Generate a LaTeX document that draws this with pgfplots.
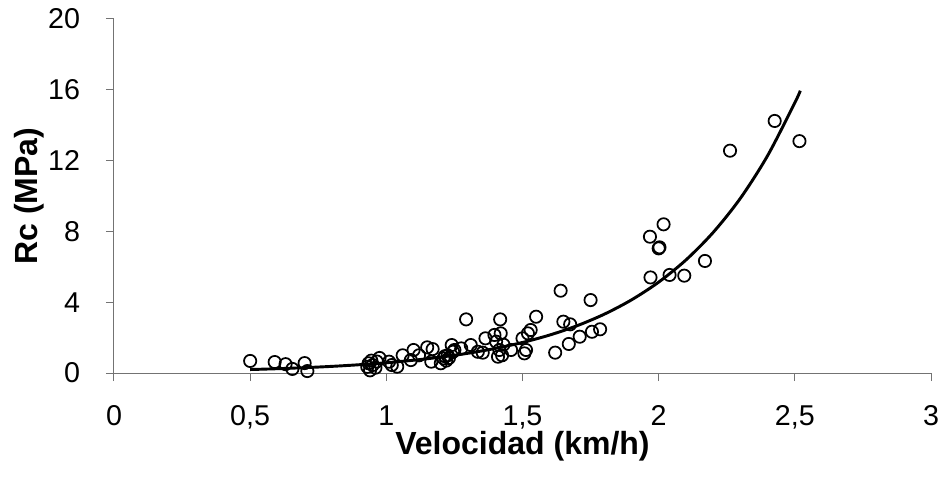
\documentclass[border=0pt]{standalone}
\usepackage{pgfplots}
\pgfplotsset{compat=1.18}
\usepackage{fontspec}
\setmainfont{Liberation Sans}
\begin{document}
\begin{tikzpicture}
\begin{axis}[
  name=ax,
  scale only axis,
  width=612.75pt, height=265.5pt,
  xmin=0, xmax=3, ymin=0, ymax=20,
  axis x line=bottom, axis y line=left,
  axis line style={-, draw=black!55, line width=0.75pt},
  xtick={0,0.5,1,1.5,2,2.5,3},
  ytick={0,4,8,12,16,20},
  tick align=outside,
  major tick length=6pt,
  tick style={draw=black!55, line width=0.75pt},
  /pgf/number format/assume math mode=true,
  /pgf/number format/use comma,
  ticklabel style={font=\fontsize{21.5}{24}\selectfont},
  xticklabel style={anchor=base, yshift=-33pt},
  yticklabel style={anchor=east, xshift=-16pt},
  xlabel={\textbf{Velocidad (km/h)}},
  ylabel={\textbf{Rc (MPa)}},
  label style={font=\fontsize{24}{28}\selectfont},
  xlabel style={at={(axis description cs:0.5,-0.2316)}, anchor=base},
  ylabel style={at={(axis description cs:-0.094,0.5)}, anchor=base},
  clip=false,
]
\addplot[only marks, mark=o, mark size=4.6pt, mark options={line width=1.3pt, draw=black}] coordinates {
(0.50,0.68)(0.59,0.62)(0.63,0.50)(0.655,0.23)(0.70,0.56)(0.71,0.11)
(0.93,0.35)(0.935,0.55)(0.94,0.15)(0.945,0.70)(0.95,0.45)(0.96,0.30)(0.965,0.65)(0.975,0.85)
(1.01,0.64)(1.02,0.45)(1.04,0.36)(1.06,1.00)(1.09,0.73)(1.10,1.30)(1.12,1.00)
(1.15,1.45)(1.165,0.64)(1.17,1.35)(1.20,0.55)(1.21,0.83)(1.215,0.95)(1.22,0.70)(1.225,1.00)(1.23,0.85)(1.24,1.58)(1.245,1.20)(1.25,1.30)
(1.275,1.39)(1.293,3.03)(1.31,1.58)(1.336,1.20)(1.354,1.15)(1.364,1.96)(1.397,2.15)(1.403,1.77)(1.41,0.92)(1.415,1.30)(1.418,3.03)(1.42,2.24)(1.425,1.00)(1.43,1.60)(1.458,1.30)(1.50,1.96)(1.507,1.11)(1.513,1.30)(1.52,2.24)(1.53,2.43)(1.55,3.18)
(1.62,1.15)(1.64,4.65)(1.65,2.90)(1.67,1.64)(1.675,2.75)(1.71,2.05)(1.75,4.12)(1.755,2.33)(1.785,2.47)
(1.968,7.70)(1.97,5.40)(2.00,7.04)(2.003,7.10)(2.018,8.40)(2.04,5.54)(2.094,5.50)(2.17,6.33)(2.262,12.56)(2.426,14.24)(2.517,13.10)
};
\addplot[smooth, black, line width=2.2pt] coordinates {
(0.5,0.195)(0.6,0.243)(0.7,0.302)(0.8,0.375)(0.9,0.467)(1.0,0.580)(1.1,0.722)(1.2,0.898)(1.3,1.116)(1.4,1.388)(1.5,1.726)(1.6,2.146)(1.7,2.669)(1.8,3.320)(1.9,4.129)(2.0,5.134)(2.1,6.384)(2.2,7.94)(2.3,9.87)(2.4,12.28)(2.5,15.27)(2.52,15.95)
};
\end{axis}
\pgfresetboundingbox
\path[use as bounding box] ([xshift=-85.5pt,yshift=-84.75pt]ax.south west) rectangle ([xshift=5.25pt,yshift=14.25pt]ax.north east);
\end{tikzpicture}
\end{document}
